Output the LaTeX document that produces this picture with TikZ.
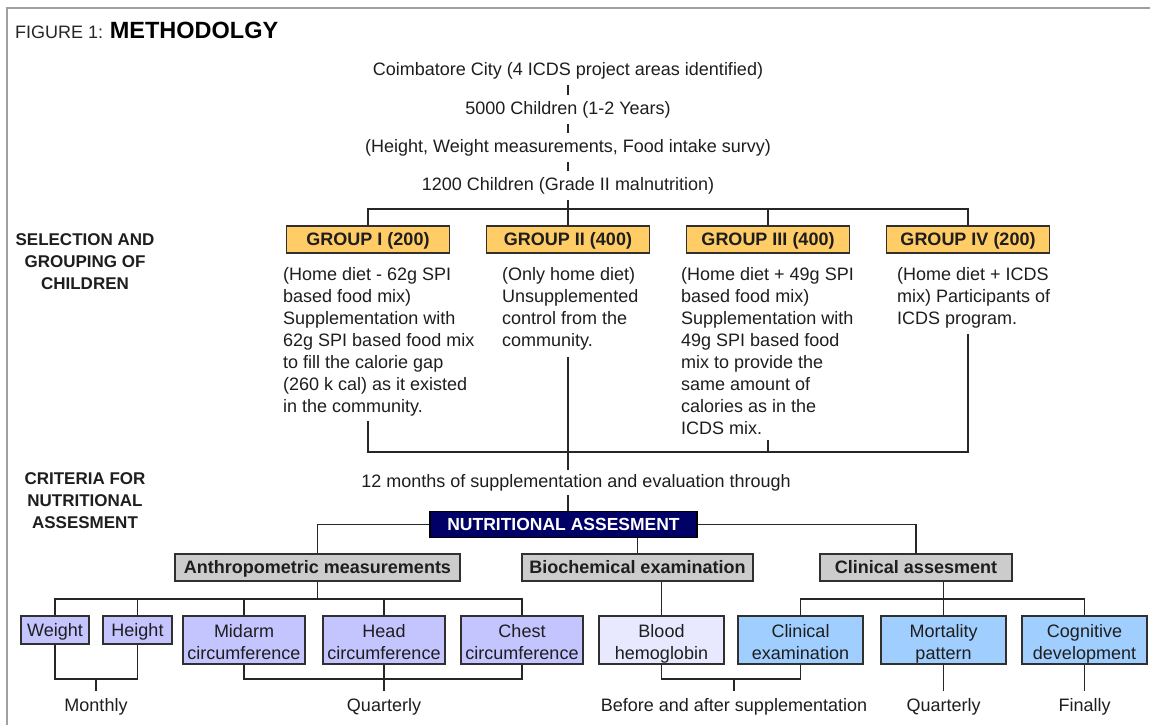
\documentclass[tikz,border=0pt]{standalone}
\usepackage{fontspec}
\setmainfont{Liberation Sans}
\definecolor{ink}{HTML}{1E1E1E}
\definecolor{lineclr}{HTML}{262626}
\definecolor{boxline}{HTML}{303030}
\definecolor{framec}{HTML}{A0A0A0}
\definecolor{grpfill}{HTML}{FFCC66}
\definecolor{navyfill}{HTML}{000066}
\definecolor{grayfill}{HTML}{CCCCCC}
\definecolor{lavfill}{HTML}{C4C4FF}
\definecolor{palefill}{HTML}{E8E8FF}
\definecolor{bluefill}{HTML}{A0CEFF}
\newcommand{\twoln}[2]{\rule{0pt}{21pt}#1\\#2\rule[-4pt]{0pt}{4pt}}
\begin{document}
\begin{tikzpicture}[x=1pt,y=-1pt,
  txt/.style={font=\fontsize{18}{22}\selectfont, text=ink, inner sep=0pt},
  chain/.style={txt, anchor=base, text height=13pt, text depth=4pt, inner ysep=6pt},
  lbl/.style={txt, anchor=base, text height=13pt, text depth=4pt, inner ysep=7pt},
  side/.style={font=\fontsize{17}{22}\selectfont\bfseries, text=ink, align=center, inner sep=0pt},
  desc/.style={txt, align=left, anchor=north west},
  boxbase/.style={draw=boxline, line width=1.3pt, inner sep=0pt, text=ink},
  grp/.style={boxbase, fill=grpfill, font=\fontsize{18}{22}\selectfont\bfseries,
    minimum width=163pt, minimum height=27pt, text height=12.9pt, text depth=0pt},
  nabox/.style={boxbase, draw=black, fill=navyfill, text=white, font=\fontsize{17.5}{22}\selectfont\bfseries,
    minimum width=267pt, minimum height=26pt, text height=12.6pt, text depth=0pt},
  graybox/.style={boxbase, fill=grayfill, font=\fontsize{18}{22}\selectfont\bfseries,
    minimum height=27pt, text height=12.9pt, text depth=0pt},
  onebox/.style={boxbase, fill=lavfill, font=\fontsize{18}{22}\selectfont,
    minimum height=28pt, text height=12.9pt, text depth=0pt},
  twobox/.style={boxbase, font=\fontsize{18}{22}\selectfont, align=center,
    minimum width=122pt, minimum height=48pt},
  conn/.style={draw=lineclr, line width=1.4pt}
]
\useasboundingbox (0,0) rectangle (1150,725);
\fill[white] (0,0) rectangle (1150,725);
\draw[framec, line width=2pt] (1150,8.5) -- (6.5,8.5) -- (6.5,725);

% title
\node[txt, anchor=base west, text=black!85] (title) at (15,39)
  {FIGURE 1: {\fontsize{23.5}{28}\selectfont\bfseries\color{black} METHODOLGY}};

% side labels
\node[side] (s1) at (85,262) {SELECTION AND\\GROUPING OF\\CHILDREN};
\node[side] (s2) at (85,501) {CRITERIA FOR\\NUTRITIONAL\\ASSESMENT};

% top chain
\node[chain] (t1) at (568,75) {Coimbatore City (4 ICDS project areas identified)};
\node[chain] (t2) at (568,114) {5000 Children (1-2 Years)};
\node[chain] (t3) at (568,152) {(Height, Weight measurements, Food intake survy)};
\node[chain] (t4) at (568,190) {1200 Children (Grade II malnutrition)};
\draw[conn] (t1) -- (t2);
\draw[conn] (t2) -- (t3);
\draw[conn] (t3) -- (t4);

% groups
\node[grp] (g1) at (368,239.5) {GROUP I (200)};
\node[grp] (g2) at (568,239.5) {GROUP II (400)};
\node[grp] (g3) at (768,239.5) {GROUP III (400)};
\node[grp] (g4) at (968,239.5) {GROUP IV (200)};
\coordinate (bar) at (568,209);
\draw[conn] (t4.south) -- (g2.north);
\draw[conn] (g1.north) -- (g1.north |- bar) -- (g4.north |- bar) -- (g4.north);
\draw[conn] (g3.north) -- (g3.north |- bar);

% descriptions
\node[desc] (d1) at (283,267) {(Home diet - 62g SPI\\based food mix)\\Supplementation with\\62g SPI based food mix\\to fill the calorie gap\\(260 k cal) as it existed\\in the community.};
\node[desc] (d2) at (502,267) {(Only home diet)\\Unsupplemented\\control from the\\community.};
\node[desc] (d3) at (681,267) {(Home diet + 49g SPI\\based food mix)\\Supplementation with\\49g SPI based food\\mix to provide the\\same amount of\\calories as in the\\ICDS mix.};
\node[desc] (d4) at (897,267) {(Home diet + ICDS\\mix) Participants of\\ICDS program.};

\node[chain, inner ysep=4pt] (m12) at (576,487) {12 months of supplementation and evaluation through};
\coordinate (jb) at (568,452);
\draw[conn, shorten <=5pt, shorten >=6pt] (d1.south -| g1) -- (g1 |- jb) -- (g4 |- jb) -- (d4.south -| g4);
\draw[conn, shorten <=5pt] (d3.south -| g3) -- (g3 |- jb);
\draw[conn, shorten <=7pt] (d2.south -| g2) -- (m12.north -| g2);

% nutritional assessment
\node[nabox] (na) at (563.5,524.5) {NUTRITIONAL ASSESMENT};
\draw[conn] (m12.south -| g2) -- (na.north -| g2);

\node[graybox, minimum width=285pt] (an) at (317.5,567.5) {Anthropometric measurements};
\node[graybox, minimum width=231pt] (bi) at (637.5,567.5) {Biochemical examination};
\node[graybox, minimum width=192pt] (cl) at (916,567.5) {Clinical assesment};
\draw[conn] (na.west) -| (an.north);
\draw[conn] (na.east) -| (cl.north);
\draw[conn] (na.south -| bi.north) -- (bi.north);

% bottom row
\node[onebox, minimum width=68pt] (we) at (55,630) {Weight};
\node[onebox, minimum width=69pt] (he) at (137.5,630) {Height};
\node[twobox, fill=lavfill] (mi) at (244,640) {\twoln{Midarm}{circumference}};
\node[twobox, fill=lavfill] (hd) at (384,640) {\twoln{Head}{circumference}};
\node[twobox, fill=lavfill] (ch) at (522,640) {\twoln{Chest}{circumference}};
\node[twobox, fill=palefill, minimum width=125pt] (bl) at (661.5,640) {\twoln{Blood}{hemoglobin}};
\node[twobox, fill=bluefill, minimum width=125pt] (ce) at (800.5,640) {\twoln{Clinical}{examination}};
\node[twobox, fill=bluefill, minimum width=125pt] (mo) at (943.5,640) {\twoln{Mortality}{pattern}};
\node[twobox, fill=bluefill, minimum width=125pt] (cg) at (1084.5,640) {\twoln{Cognitive}{development}};

\coordinate (ra) at (317.5,599);
\draw[conn] (an.south) -- (ra);
\draw[conn] (we.north) -- (we.north |- ra) -- (ch.north |- ra) -- (ch.north);
\draw[conn] (he.north) -- (he.north |- ra);
\draw[conn] (mi.north) -- (mi.north |- ra);
\draw[conn] (hd.north) -- (hd.north |- ra);
\draw[conn] (bi.south -| bl.north) -- (bl.north);
\draw[conn] (cl.south -| mo.north) -- (mo.north);
\draw[conn] (ce.north) -- (ce.north |- ra) -- (cg.north |- ra) -- (cg.north);

% bottom labels
\node[lbl] (l1) at (96,711) {Monthly};
\node[lbl] (l2) at (384,711) {Quarterly};
\node[lbl] (l3) at (734,711) {Before and after supplementation};
\node[lbl] (l4) at (943.5,711) {Quarterly};
\node[lbl] (l5) at (1084.5,711) {Finally};
\coordinate (lb) at (0,679);
\draw[conn] (we.south) -- (we.south |- lb) -- (he.south |- lb) -- (he.south);
\draw[conn] (l1.north) -- (l1.north |- lb);
\draw[conn] (mi.south) -- (mi.south |- lb) -- (ch.south |- lb) -- (ch.south);
\draw[conn] (hd.south) -- (l2.north);
\draw[conn] (bl.south) -- (bl.south |- lb) -- (ce.south |- lb) -- (ce.south);
\draw[conn] (l3.north) -- (l3.north |- lb);
\draw[conn] (mo.south) -- (l4.north);
\draw[conn] (cg.south) -- (l5.north);
\end{tikzpicture}
\end{document}
